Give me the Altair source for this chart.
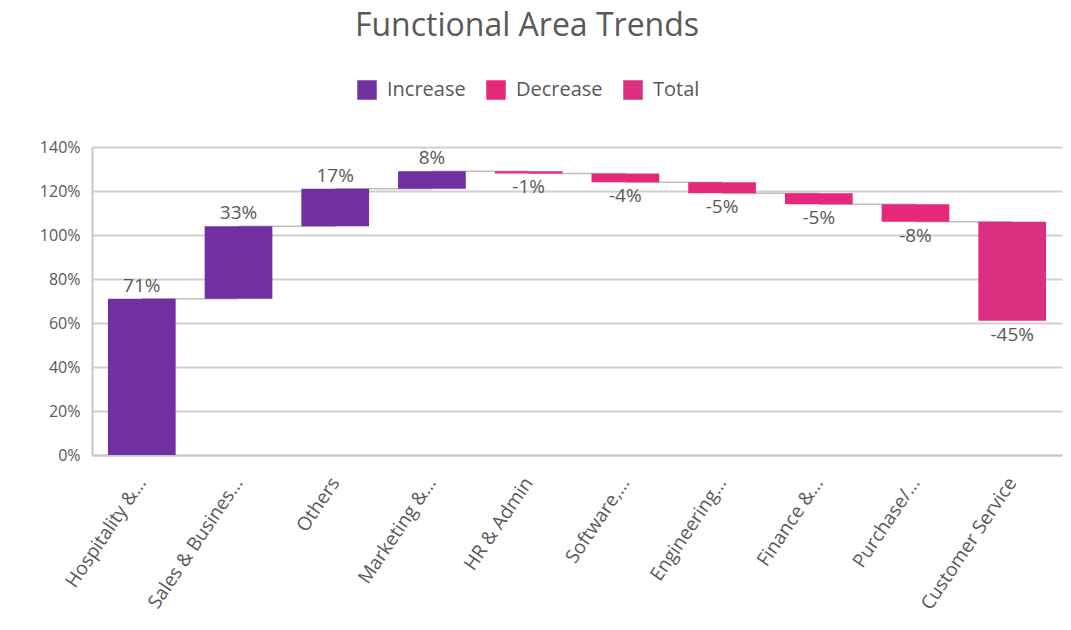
import altair as alt
import pandas as pd

categories = ["Hospitality &...", "Sales & Busines...", "Others", "Marketing &...", "HR & Admin",
              "Software,...", "Engineering...", "Finance &...", "Purchase/...", "Customer Service"]
changes = [0.71, 0.33, 0.17, 0.08, -0.01, -0.04, -0.05, -0.05, -0.08, -0.45]
kinds = ["Increase", "Increase", "Increase", "Increase", "Decrease",
         "Decrease", "Decrease", "Decrease", "Decrease", "Total"]

rows = []
running = 0.0
for i, (c, v, k) in enumerate(zip(categories, changes, kinds)):
    start = running
    end = running + v
    running = end
    rows.append({
        "cat": c, "value": v, "kind": k, "start": start, "end": end,
        "next": categories[i + 1] if i + 1 < len(categories) else None,
        "label": f"{round(v * 100):d}%",
        "up": v >= 0,
    })
df = pd.DataFrame(rows)

FONT = "Open Sans"
GREY = "#595959"

x_enc = alt.X("cat:N", sort=categories,
              scale=alt.Scale(paddingInner=0.3, paddingOuter=0.165),
              axis=alt.Axis(title=None, labelAngle=304, labelAlign="right", labelBaseline="middle",
                            labelFontSize=19, labelColor=GREY, labelFont=FONT, ticks=False,
                            labelPadding=24, domainColor="#C8C8C8", domainWidth=2))
y_scale = alt.Scale(domain=[0, 1.4], nice=False)

base = alt.Chart(df)

connectors = base.transform_filter("datum.next != null").mark_rule(
    color="#BFBFBF", strokeWidth=1.5
).encode(
    x=x_enc,
    x2=alt.X2("next:N"),
    y=alt.Y("end:Q", scale=y_scale),
)

bars = base.mark_bar(stroke=None).encode(
    x=x_enc,
    y=alt.Y("start:Q", scale=y_scale,
            axis=alt.Axis(title=None, format=".0%", values=[0, 0.2, 0.4, 0.6, 0.8, 1.0, 1.2, 1.4],
                          labelFontSize=16, labelColor=GREY, labelFont=FONT, ticks=False,
                          labelPadding=12, gridColor="#CFCFCF", gridWidth=2,
                          domainColor="#C8C8C8", domainWidth=2)),
    y2="end:Q",
    color=alt.Color("kind:N",
                    scale=alt.Scale(domain=["Increase", "Decrease", "Total"],
                                    range=["#7030A0", "#E6287C", "#DB2F80"]),
                    legend=alt.Legend(title=None, orient="none", legendX=265, legendY=-67,
                                      direction="horizontal", columns=3, symbolType="square",
                                      symbolSize=380, symbolStrokeWidth=0, labelFontSize=20,
                                      labelColor=GREY, labelFont=FONT, labelOffset=10,
                                      columnPadding=20)),
)

up_labels = base.transform_filter("datum.up").mark_text(
    baseline="bottom", dy=-3, fontSize=19, color=GREY, font=FONT
).encode(x=x_enc, y=alt.Y("end:Q", scale=y_scale), text="label:N")

down_labels = base.transform_filter("!datum.up").mark_text(
    baseline="top", dy=5, fontSize=19, color=GREY, font=FONT
).encode(x=x_enc, y=alt.Y("end:Q", scale=y_scale), text="label:N")

chart = alt.layer(connectors, bars, up_labels, down_labels).properties(
    width=970, height=308,
    autosize=alt.AutoSizeParams(type="none"),
    padding={"left": 84, "top": 139, "right": 1, "bottom": 165},
    title=alt.TitleParams("Functional Area Trends", fontSize=32, font=FONT, color=GREY,
                          fontWeight="normal", anchor="middle", dx=-50, offset=37),
).configure_view(stroke=None).configure_axis(grid=True).configure_axisX(grid=False)

chart.save("out.html", embed_options={"renderer": "svg", "actions": False})
